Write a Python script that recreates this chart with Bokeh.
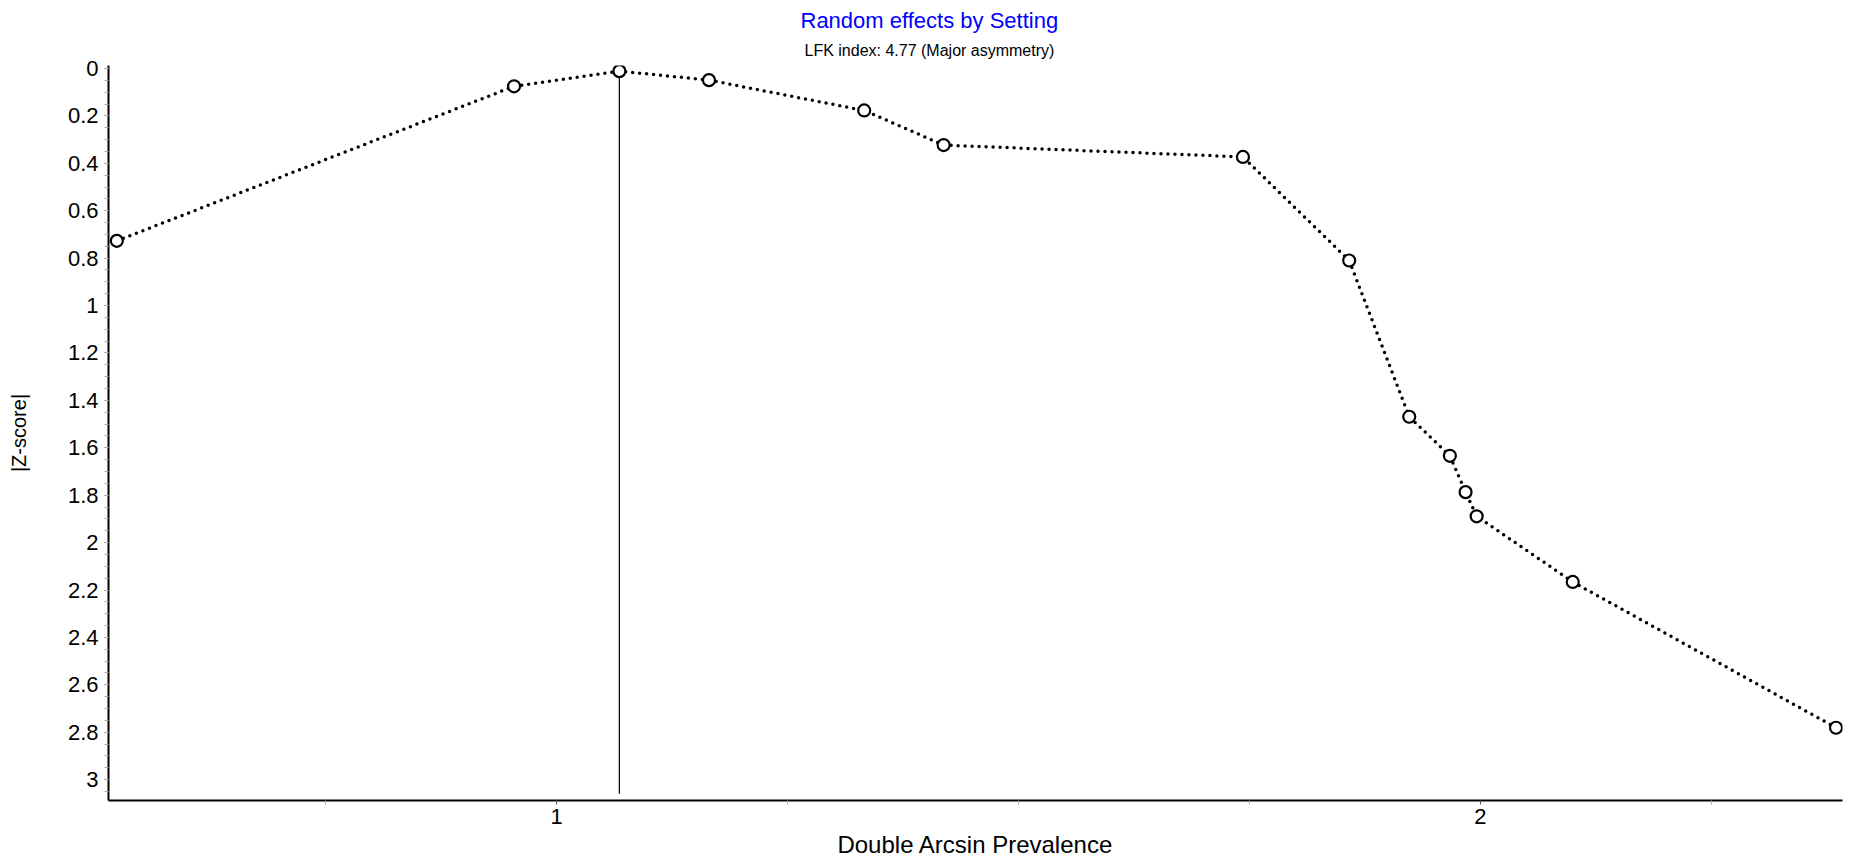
from bokeh.plotting import figure
from bokeh.models import Range1d, FixedTicker, Title
from bokeh.embed import file_html
from bokeh.resources import INLINE

# ---- data ----
effect = [0.524, 0.954, 1.068, 1.165, 1.333, 1.419, 1.743, 1.858, 1.923, 1.967, 1.984, 1.996, 2.100, 2.385]
zscore = [0.727, 0.075, 0.011, 0.049, 0.177, 0.323, 0.373, 0.810, 1.469, 1.634, 1.787, 1.889, 2.166, 2.781]

y_ticks = [0, 0.2, 0.4, 0.6, 0.8, 1.0, 1.2, 1.4, 1.6, 1.8, 2.0, 2.2, 2.4, 2.6, 2.8, 3.0]
y_tick_labels = ["0", "0.2", "0.4", "0.6", "0.8", "1", "1.2", "1.4", "1.6", "1.8",
                 "2", "2.2", "2.4", "2.6", "2.8", "3"]
y_minor = [round(i * 0.05, 2) for i in range(0, 62)]
x_ticks = [1, 2]
x_tick_labels = ["1", "2"]
x_minor = [0.75, 1.25, 1.5, 1.75, 2.25]

ref_x = 1.068          # vertical reference line (effect of the most precise study)
ref_y_end = 3.06

title_text = "Random effects by Setting"
subtitle_text = "LFK index: 4.77 (Major asymmetry)"
x_label = "Double Arcsin Prevalence"
y_label = "|Z-score|"

FONT = "Liberation Sans"

p = figure(width=1850, height=864, output_backend="svg", toolbar_location=None,
           x_range=Range1d(0.515, 2.392), y_range=Range1d(3.088, -0.0127),
           min_border_left=108, min_border_right=8, min_border_top=0, min_border_bottom=64)
p.outline_line_color = None
p.xgrid.visible = False
p.ygrid.visible = False
p.background_fill_color = "white"
p.border_fill_color = "white"

# titles: main title on top, subtitle just above the frame
p.title = Title(text=title_text, align="left", offset=692, vertical_align="bottom",
                standoff=10, text_font=FONT, text_font_size="22px",
                text_font_style="normal", text_color="#0000ff")
p.add_layout(Title(text=subtitle_text, align="left", offset=696, vertical_align="top",
                   standoff=9, text_font=FONT, text_font_size="16px",
                   text_font_style="normal", text_color="black"), "above")

# axes
for ax in (p.xaxis[0], p.yaxis[0]):
    ax.axis_line_width = 2
    ax.axis_line_color = "black"
    ax.major_tick_in = 0
    ax.major_tick_out = 4
    ax.minor_tick_in = 0
    ax.minor_tick_out = 4
    ax.major_tick_line_color = "#555555"
    ax.minor_tick_line_color = "#aaaaaa"
    ax.major_label_text_font = FONT
    ax.major_label_text_font_size = "22px"
    ax.major_label_text_color = "black"
    ax.axis_label_text_font = FONT
    ax.axis_label_text_font_style = "normal"
    ax.axis_label_text_color = "black"

p.xaxis.ticker = FixedTicker(ticks=x_ticks, minor_ticks=x_minor)
p.xaxis.major_label_overrides = {t: l for t, l in zip(x_ticks, x_tick_labels)}
p.xaxis.axis_label = x_label
p.xaxis.axis_label_text_font_size = "24px"
p.xaxis.major_label_standoff = 4
p.xaxis.axis_label_standoff = 4

p.yaxis.ticker = FixedTicker(ticks=y_ticks, minor_ticks=y_minor)
p.yaxis.major_label_overrides = {t: l for t, l in zip(y_ticks, y_tick_labels)}
p.yaxis.axis_label = y_label
p.yaxis.axis_label_text_font_size = "20px"
p.yaxis.major_label_standoff = 6
p.yaxis.axis_label_standoff = 35

# reference line
p.segment(x0=[ref_x], y0=[min(zscore)], x1=[ref_x], y1=[ref_y_end],
          line_color="black", line_width=1.2)

# dotted curve and open markers
p.line(effect, zscore, line_color="black", line_width=3.5, line_dash="0 7", line_cap="round")
p.scatter(effect, zscore, marker="circle", size=12, fill_color="white",
          line_color="black", line_width=2.2)

open("out.html", "w").write(file_html(p, INLINE))
